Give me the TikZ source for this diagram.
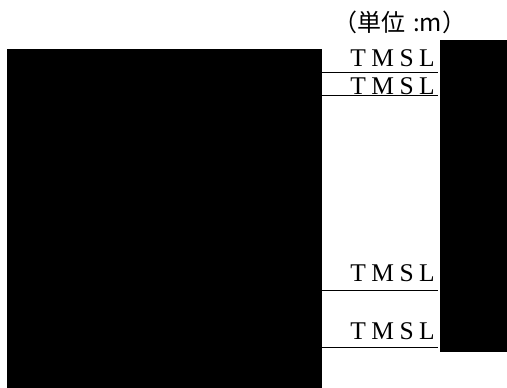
\documentclass[tikz,border=0pt]{standalone}
\usepackage{fontspec}
\setmainfont{Liberation Serif}
\newfontfamily\cjk{Noto Sans CJK JP}
\usetikzlibrary{positioning}
\newcommand\tmsl{T\kern5.5pt M\kern5.5pt S\kern5.5pt L}

\begin{document}
\begin{tikzpicture}[x=1pt,y=-1pt,lvl/.style={font=\fontsize{25.5}{25.5}\selectfont,anchor=base east,inner sep=0pt},lvline/.style={line width=0.8pt}]
\useasboundingbox (0,0) rectangle (507,388);
\fill (7,49) rectangle (322,388);
\fill (440,40) rectangle (507,352);
\node[font=\cjk\fontsize{24}{24}\selectfont,anchor=base,inner sep=0pt] (unit) at (400,31) {（単位\hspace{0.3em}:m）};
\coordinate (L1) at (322,72.3);
\coordinate (R1) at (438,72.3);
\coordinate (L2) at (322,95);
\coordinate (R2) at (438,95);
\coordinate (L3) at (322,290);
\coordinate (R3) at (438,290);
\coordinate (L4) at (322,347.7);
\coordinate (R4) at (438,347.7);
\node[lvl] (t1) at (435,66.5) {\tmsl};
\node[lvl] (t2) at (435,94.3) {\tmsl};
\node[lvl] (t3) at (435,281.7) {\tmsl};
\node[lvl] (t4) at (435,339.3) {\tmsl};
\draw[lvline] (L1) -- (R1);
\draw[lvline] (L2) -- (R2);
\draw[lvline] (L3) -- (R3);
\draw[lvline] (L4) -- (R4);
\end{tikzpicture}
\end{document}
